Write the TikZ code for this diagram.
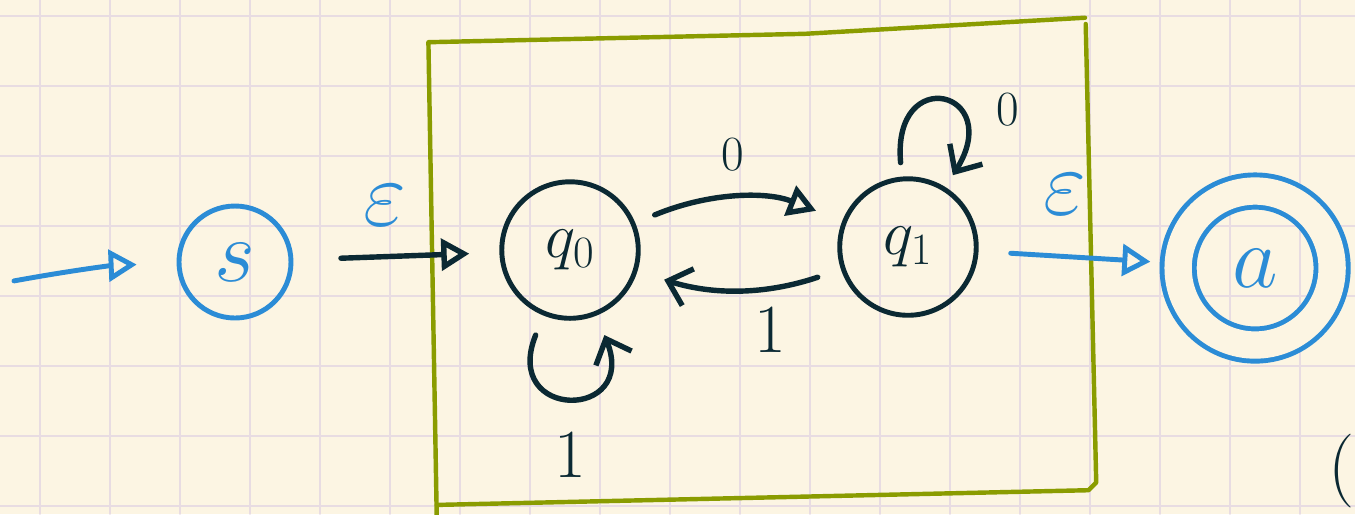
\documentclass[tikz,border=0pt]{standalone}
\usepackage{fix-cm}
\usepackage{tikz}
\usetikzlibrary{arrows.meta}
\definecolor{paper}{HTML}{FCF5E3}
\definecolor{gridc}{HTML}{E8DCE2}
\definecolor{inkc}{HTML}{0B2933}
\definecolor{bluec}{HTML}{2B8CD6}
\definecolor{greenc}{HTML}{8A9C00}
\newcommand\fsz[1]{\fontsize{#1}{#1}\selectfont}

\begin{document}
\begin{tikzpicture}[line cap=round, line join=round,
    gridline/.style={draw=gridc, line width=0.6pt},
    frame/.style={draw=greenc, line width=1.8pt},
    state/.style={circle, draw=inkc, line width=2pt, minimum size=1.95cm, inner sep=0pt, text=inkc, font={\fsz{26}}},
    bstate/.style={circle, draw=bluec, line width=2pt, minimum size=1.6cm, inner sep=0pt, text=bluec, font={\fsz{36}}},
    accepting/.style={bstate, minimum size=2.2cm, double=paper, double distance=0.39cm, outer sep=0pt},
    edge/.style={draw=inkc, line width=2.2pt, -{Triangle[open, length=4mm, width=4.5mm]}},
    barb/.style={draw=inkc, line width=2.2pt, -{Straight Barb[length=3mm, width=5.5mm]}},
    bedge/.style={draw=bluec, line width=2pt, -{Triangle[open, length=4mm, width=4.5mm]}},
    lbl/.style={text=inkc, inner sep=0pt, font={\fsz{#1}}},
    blbl/.style={text=bluec, inner sep=0pt, font={\fsz{38}}}]
  \useasboundingbox (0,0) rectangle (19.357,7.343);
  \fill[paper] (0,0) rectangle (19.357,7.343);

  % squared paper
  \foreach \k in {0,...,18}
    \draw[gridline] ({0.5714+\k},0) -- ({0.5714+\k},7.343);
  \foreach \k in {0,...,7}
    \draw[gridline] (0,{0.114+\k}) -- (19.357,{0.114+\k});

  % box round the inner automaton
  \draw[frame] (6.24,-0.1) -- (6.12,6.74) -- (11.5,6.86) -- (15.5,7.09);
  \draw[frame] (15.51,7.0) -- (15.66,0.45) -- (15.55,0.34) -- (6.24,0.13);

  % states
  \node[bstate] (s) at (3.357,3.6) {$s$};
  \node[state] (q0) at (8.143,3.771) {$q_0$};
  \node[state] (q1) at (12.971,3.814) {$q_1$};
  \node[accepting] (a) at (17.93,3.514) {$a$};
  \coordinate (start) at (0.2,3.33);

  % transitions
  \draw[bedge, shorten >=0.57cm] (start) to[bend left=4] (s);
  \draw[edge, shorten <=0.68cm, shorten >=0.43cm] (s) -- (q0);
  \draw[edge, shorten <=0.3cm, shorten >=0.4cm] (q0) to[bend left=22] (q1);
  \draw[barb, shorten <=0.35cm, shorten >=0.4cm] (q1) to[bend left=18] (q0);
  \draw[barb, shorten <=0.3cm, shorten >=0.3cm] (q0) to[out=-112, in=-68, looseness=5.5] (q0);
  \draw[barb, shorten <=0.2cm, shorten >=0.2cm] (q1) to[out=95, in=58, looseness=6.5] (q1);
  \draw[bedge, shorten <=0.46cm, shorten >=0.4cm] (q1) -- (a);

  % labels
  \node[blbl] (e1) at (5.5,4.41) {$\varepsilon$};
  \node[lbl=20] (l0) at (10.47,5.13) {0};
  \node[lbl=28] (l1) at (11.0,2.63) {1};
  \node[lbl=28] (l2) at (8.143,0.843) {1};
  \node[lbl=20] (l3) at (14.4,5.771) {0};
  \node[blbl] (e2) at (15.21,4.56) {$\varepsilon$};
  \node[lbl=30, anchor=east] (paren) at (19.357,0.62) {(};
\end{tikzpicture}
\end{document}
